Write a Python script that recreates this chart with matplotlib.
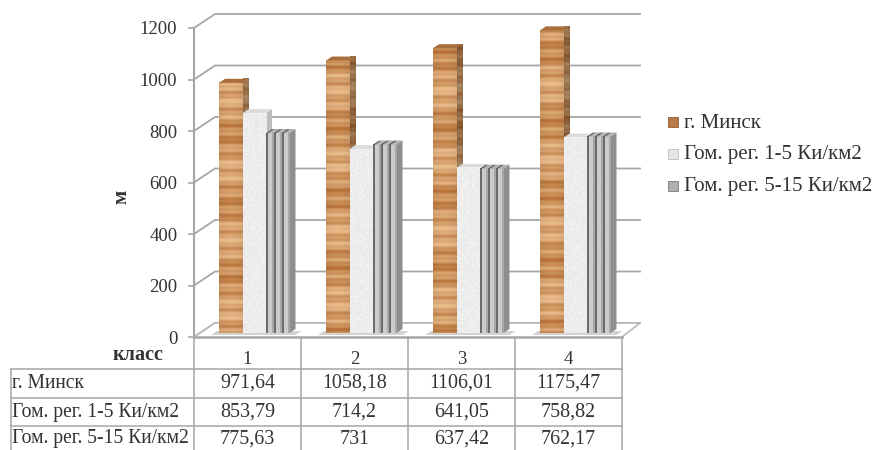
import numpy as np
import matplotlib
matplotlib.use("Agg")
import matplotlib.pyplot as plt
from matplotlib.patches import Polygon, Rectangle

plt.rcParams['font.family'] = ['Liberation Serif', 'DejaVu Serif']

classes = ["1", "2", "3", "4"]
minsk = [971.64, 1058.18, 1106.01, 1175.47]
gomel_1_5 = [853.79, 714.2, 641.05, 758.82]
gomel_5_15 = [775.63, 731, 637.42, 762.17]
minsk_text = ["971,64", "1058,18", "1106,01", "1175,47"]
gomel_1_5_text = ["853,79", "714,2", "641,05", "758,82"]
gomel_5_15_text = ["775,63", "731", "637,42", "762,17"]
series_names = ["г. Минск", "Гом. рег. 1-5 Ки/км2", "Гом. рег. 5-15 Ки/км2"]
y_ticks = [0, 200, 400, 600, 800, 1000, 1200]

W, H = 872, 450
X0, X1 = 194, 622
Y0, Y1 = 337, 28
TXT = "#333333"
LINE = "#a6a6a6"

fig = plt.figure(figsize=(W / 100, H / 100), dpi=100)
ax = fig.add_axes([X0 / W, 1 - Y0 / H, (X1 - X0) / W, (Y0 - Y1) / H])
ax.set_xlim(0, len(classes))
ax.set_ylim(0, 1200)
ax.patch.set_visible(False)
for s in ax.spines.values():
    s.set_visible(False)

# one pixel in data units
PX = len(classes) / (X1 - X0)
PY = 1200 / (Y0 - Y1)
DX, DY = 21 * PX, 14 * PY
BX, BY = 6 * PX, 4 * PY
BASE = 4 * PY


def wood(n, w, shade=1.0, seed=0.0):
    r = np.arange(n)[:, None]
    bands = (np.sin(r * 0.41 + seed) + 0.6 * np.sin(r * 1.13 + seed * 2)
             + 0.8 * np.sin(r * 0.09 + seed * 3)) / 2.4
    c = np.linspace(0, np.pi, w)[None, :]
    light = 0.95 + 0.05 * np.sin(c)
    pale = np.array([0.92, 0.74, 0.55])
    dark = np.array([0.72, 0.45, 0.22])
    t = np.clip(bands * 0.65 + 0.55, 0, 1)[:, :, None]
    return (pale * t + dark * (1 - t)) * light[:, :, None] * shade


def speckle(n, w):
    j, i = np.meshgrid(np.arange(w), np.arange(n))
    h = np.sin(i * 12.9898 + j * 78.233) * 43758.5453
    h = h - np.floor(h)
    g = 0.90 + 0.06 * h
    return np.dstack([g, g, g + 0.005])


def ribs(w):
    # front of one ribbed bar, three dark grooves with lighter faces
    xs = np.linspace(0, 3, w, endpoint=False) % 1
    g = np.where(xs < 0.2, 0.42, 0.66)
    g = np.where((xs >= 0.2) & (xs < 0.65), 0.80, g)
    return np.dstack([g, g, g])


def put_image(img, x0, x1, y0, y1, z, clip=None):
    im = ax.imshow(img, extent=[x0, x1, y0, y1], aspect='auto',
                   interpolation='bilinear', origin='upper', zorder=z)
    im.set_clip_on(False)
    if clip is not None:
        ax.add_patch(clip)
        clip.set_visible(False)
        im.set_clip_path(clip)


def side_top(x, w, top, z, side_col, top_col):
    ax.add_patch(Polygon([(x + w, BASE), (x + w + BX, BASE + BY),
                          (x + w + BX, top + BY), (x + w, top)],
                         fc=side_col, ec='none', zorder=z, clip_on=False))
    ax.add_patch(Polygon([(x, top), (x + w, top),
                          (x + w + BX, top + BY), (x + BX, top + BY)],
                         fc=top_col, ec='none', zorder=z, clip_on=False))


# back wall, gridlines and floor
for v in y_ticks:
    ax.plot([0, DX, 4 + 18 * PX], [v, v + DY, v + DY], color=LINE, lw=1.3,
            clip_on=False, zorder=1, solid_joinstyle='miter')
ax.plot([0, 0], [0, 1200], color=LINE, lw=1.5, clip_on=False, zorder=1)
ax.add_patch(Polygon([(0, 0), (DX, DY), (4 + 18 * PX, DY), (4, 0)],
                     fc='white', ec='none', zorder=1.5, clip_on=False))
ax.plot([0, DX, 4 + 18 * PX, 4], [0, DY, DY, 0], color="#b8b8b8", lw=1.2,
        clip_on=False, zorder=1.6)
ax.plot([0, 4], [0, 0], color=LINE, lw=1.8, clip_on=False, zorder=2)

ax.set_yticks(y_ticks)
ax.set_xticks([])
ax.tick_params(axis='y', length=4, width=1.2, color=LINE, pad=8,
               labelsize=13.5, labelcolor=TXT)

bar_w = 23.5 * PX
first = 25 * PX
for k in range(len(classes)):
    x = k + first
    z = 3 + k
    # floor shadow under the group
    ax.add_patch(Polygon([(x - 8 * PX, BASE - 2 * PY), (x + 3 * bar_w + 6 * PX, BASE - 2 * PY),
                          (x + 3 * bar_w + 12 * PX, BASE + 2 * PY), (x - 2 * PX, BASE + 2 * PY)],
                         fc="#d2d2d2", ec='none', zorder=2.5, clip_on=False))

    # wood column
    top = BASE + minsk[k]
    rows = int(minsk[k] / PY)
    ax.bar(x, minsk[k], width=bar_w, bottom=BASE, align='edge', color="#c98f5b", zorder=z)
    put_image(wood(rows, 24, 1.0, k * 1.7), x, x + bar_w, BASE, top, z + 0.1)
    clip = Polygon([(x + bar_w, BASE), (x + bar_w + BX, BASE + BY),
                    (x + bar_w + BX, top + BY), (x + bar_w, top)],
                   transform=ax.transData)
    put_image(wood(rows, 6, 0.72, k * 1.7), x + bar_w, x + bar_w + BX, BASE, top + BY, z + 0.1, clip)
    ax.add_patch(Polygon([(x, top), (x + bar_w, top),
                          (x + bar_w + BX, top + BY), (x + BX, top + BY)],
                         fc="#a86f3d", ec='none', zorder=z + 0.2, clip_on=False))

    # speckled column
    x2 = x + bar_w
    top = BASE + gomel_1_5[k]
    ax.bar(x2, gomel_1_5[k], width=bar_w, bottom=BASE, align='edge', color="#eeeeee", zorder=z + 1)
    side_top(x2, bar_w, top, z + 1, "#bdbdbd", "#dcdcdc")
    put_image(speckle(int(gomel_1_5[k] / PY), 24), x2, x2 + bar_w, BASE, top, z + 1.1)

    # ribbed column
    x3 = x2 + bar_w
    top = BASE + gomel_5_15[k]
    ax.bar(x3, gomel_5_15[k], width=bar_w, bottom=BASE, align='edge', color="#c8c8c8", zorder=z + 2)
    side_top(x3, bar_w, top, z + 2, "#8e8e8e", "#8a8a8a")
    put_image(ribs(24), x3, x3 + bar_w, BASE, top, z + 2.1)
    for r in range(3):
        rx = x3 + r * bar_w / 3
        ax.add_patch(Polygon([(rx, top), (rx + 2 * PX, top), (rx + BX + 2 * PX, top + BY), (rx + BX, top + BY)],
                             fc="#555555", ec='none', zorder=z + 2.2, clip_on=False))
        ax.add_patch(Polygon([(rx + 2 * PX, top), (rx + bar_w / 3, top),
                              (rx + bar_w / 3 + BX, top + BY), (rx + BX + 2 * PX, top + BY)],
                             fc="#b4b4b4", ec='none', zorder=z + 2.2, clip_on=False))

ax.set_xlim(0, len(classes))
ax.set_ylim(0, 1200)

# overlay in pixel coordinates for the table and legend
ov = fig.add_axes([0, 0, 1, 1])
ov.set_xlim(0, W)
ov.set_ylim(H, 0)
ov.axis('off')
ov.patch.set_visible(False)

col_x = [194, 301, 408, 515, 622]
row_y = [337, 369, 398, 426, 450]
for cx in col_x:
    ov.plot([cx, cx], [row_y[0], H], color=LINE, lw=1.1)
ov.plot([11, 11], [row_y[1], H], color=LINE, lw=1.1)
for ry in row_y[1:4]:
    ov.plot([11, 622], [ry, ry], color=LINE, lw=1.1)

ov.text(138, 355, "класс", fontsize=14.5, fontweight='bold', color=TXT, ha='center', va='center')
ov.text(121, 197, "м", fontsize=15, fontweight='bold', color=TXT, rotation=90, ha='center', va='center')

for i, c in enumerate(classes):
    ov.text((col_x[i] + col_x[i + 1]) / 2, 360, c, fontsize=13.5, color=TXT, ha='center', va='center')
rows_text = [minsk_text, gomel_1_5_text, gomel_5_15_text]
row_mid = [383, 412, 439]
for name, vals, ym in zip(series_names, rows_text, row_mid):
    ov.text(11.5, ym, name, fontsize=14.1, color=TXT, ha='left', va='center')
    for i, t in enumerate(vals):
        ov.text((col_x[i] + col_x[i + 1]) / 2, ym, t, fontsize=14.4, color=TXT, ha='center', va='center')

# legend
leg_y = [122, 154, 186]
swatches = [("#b87a48", "#8f5c33"), ("#e6e6e6", "#bdbdbd"), ("#b0b0b0", "#7a7a7a")]
for name, ym, (fc, ec) in zip(series_names, leg_y, swatches):
    ov.add_patch(Rectangle((668, ym - 5), 10, 10, fc=fc, ec=ec, lw=0.6))
    ov.text(684, ym + 1, name, fontsize=15, color=TXT, ha='left', va='center')

fig.savefig("out.png", dpi=100)
plt.close()
